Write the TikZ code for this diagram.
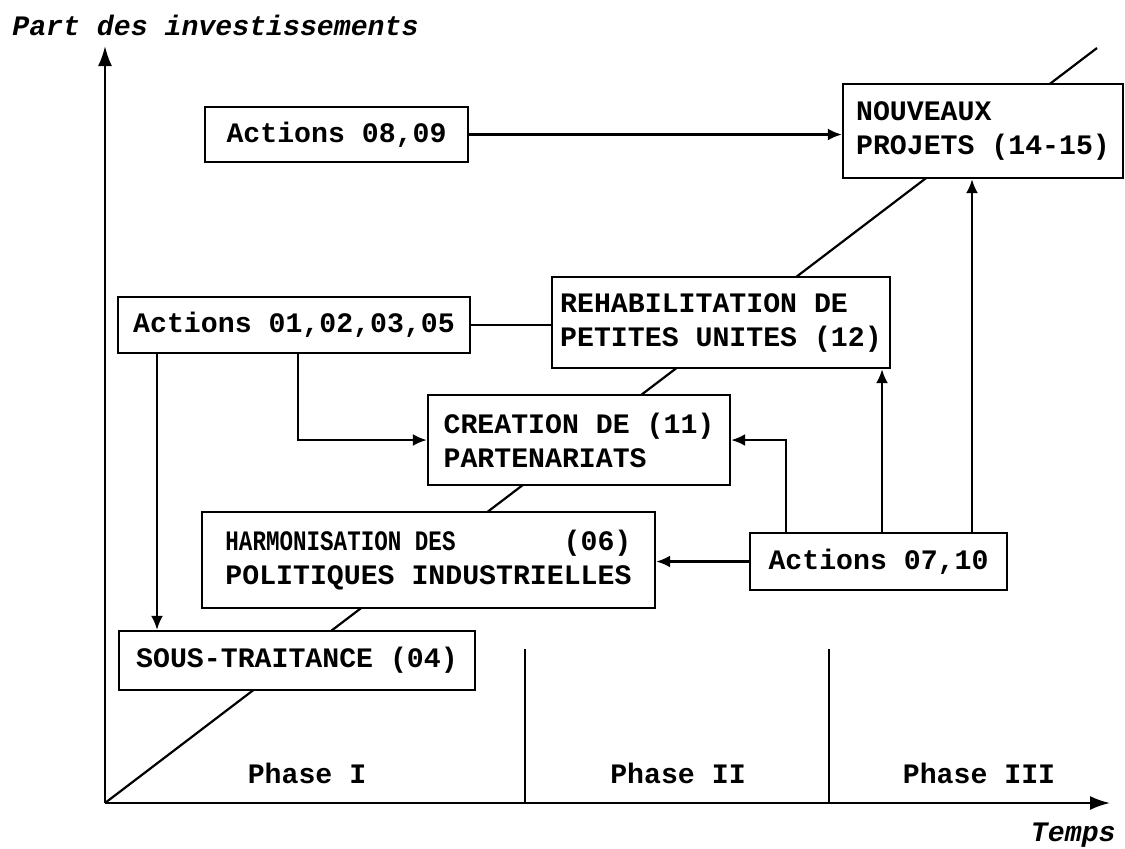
\documentclass[tikz,border=0pt]{standalone}
\usepackage{fontspec}
\usepackage{graphicx}
\setmainfont{Liberation Mono}
\usetikzlibrary{arrows.meta}
\begin{document}
\begin{tikzpicture}[x=0.5pt,y=-0.5pt,
  every node/.style={font=\fontsize{14.1pt}{17pt}\selectfont\bfseries, inner sep=0pt},
  box/.style={draw, line width=1.2pt, fill=white, align=left},
  sz/.style 2 args={minimum width=#1*0.5pt, minimum height=#2*0.5pt},
  ln/.style={line width=1.1pt},
  arr/.style={line width=1.1pt, -{Latex[length=7pt,width=6pt]}},
  axarr/.style={line width=1.1pt, -{Latex[length=10pt,width=7pt]}},
  lab/.style={font=\fontsize{14.1pt}{17pt}\selectfont\bfseries\itshape}]
\useasboundingbox (0,0) rectangle (1125,848);

% axes and diagonal
\coordinate (O) at (105,803);
\coordinate (Ytop) at (105,46);
\coordinate (Xend) at (1110,803);
\coordinate (D) at (1097,48);
\coordinate (P1) at (525,649);
\coordinate (P2) at (829,649);
\draw[ln] (O) -- (D);
\draw[axarr] (O) -- (Ytop);
\draw[axarr] (O) -- (Xend);
\draw[ln] (P1) -- (P1 |- O);
\draw[ln] (P2) -- (P2 |- O);

\node[lab, anchor=west] (ylab) at (12,25) {Part des investissements};
\node[lab, anchor=east] (xlab) at (1116,835) {Temps};
\node (ph1) at (307,773) {Phase I};
\node (ph2) at (678,773) {Phase II};
\node (ph3) at (979,773) {Phase III};

% boxes
\node[box, sz={263}{55}] (a0809) at (336.5,134.5) {Actions 08,09};
\node[box, sz={280}{94}] (nouv) at (983,131) {NOUVEAUX\\PROJETS (14-15)};
\node[box, sz={352}{56}] (a0105) at (294,325) {Actions 01,02,03,05};
\node[box, sz={338}{91}] (rehab) at (721,322.5) {REHABILITATION DE\\PETITES UNITES (12)};
\node[box, sz={302}{90}] (creat) at (579,440) {CREATION DE (11)\\PARTENARIATS};
\node[box, sz={453}{96}] (harm) at (428.5,560)
  {\hbox to 203pt{\scalebox{0.8}[1]{HARMONISATION DES}\hfill(06)}\\POLITIQUES INDUSTRIELLES};
\node[box, sz={257}{57}] (a0710) at (878.5,561.5) {Actions 07,10};
\node[box, sz={356}{59}] (sous) at (297,660.5) {SOUS-TRAITANCE (04)};

% connectors
\draw[arr] (a0809.east) -- (a0809.east -| nouv.west);
\draw[ln] (a0105.east) -- (a0105.east -| rehab.west);
\draw[arr] (157,0 |- a0105.south) -- (157,0 |- sous.north);
\draw[arr] (298,0 |- a0105.south) |- (creat.west);
\draw[arr] (a0710.west) -- (a0710.west -| harm.east);
\draw[arr] (786,0 |- a0710.north) |- (creat.east);
\draw[arr] (882,0 |- a0710.north) -- (882,0 |- rehab.south);
\draw[arr] (972,0 |- a0710.north) -- (972,0 |- nouv.south);
\end{tikzpicture}
\end{document}
